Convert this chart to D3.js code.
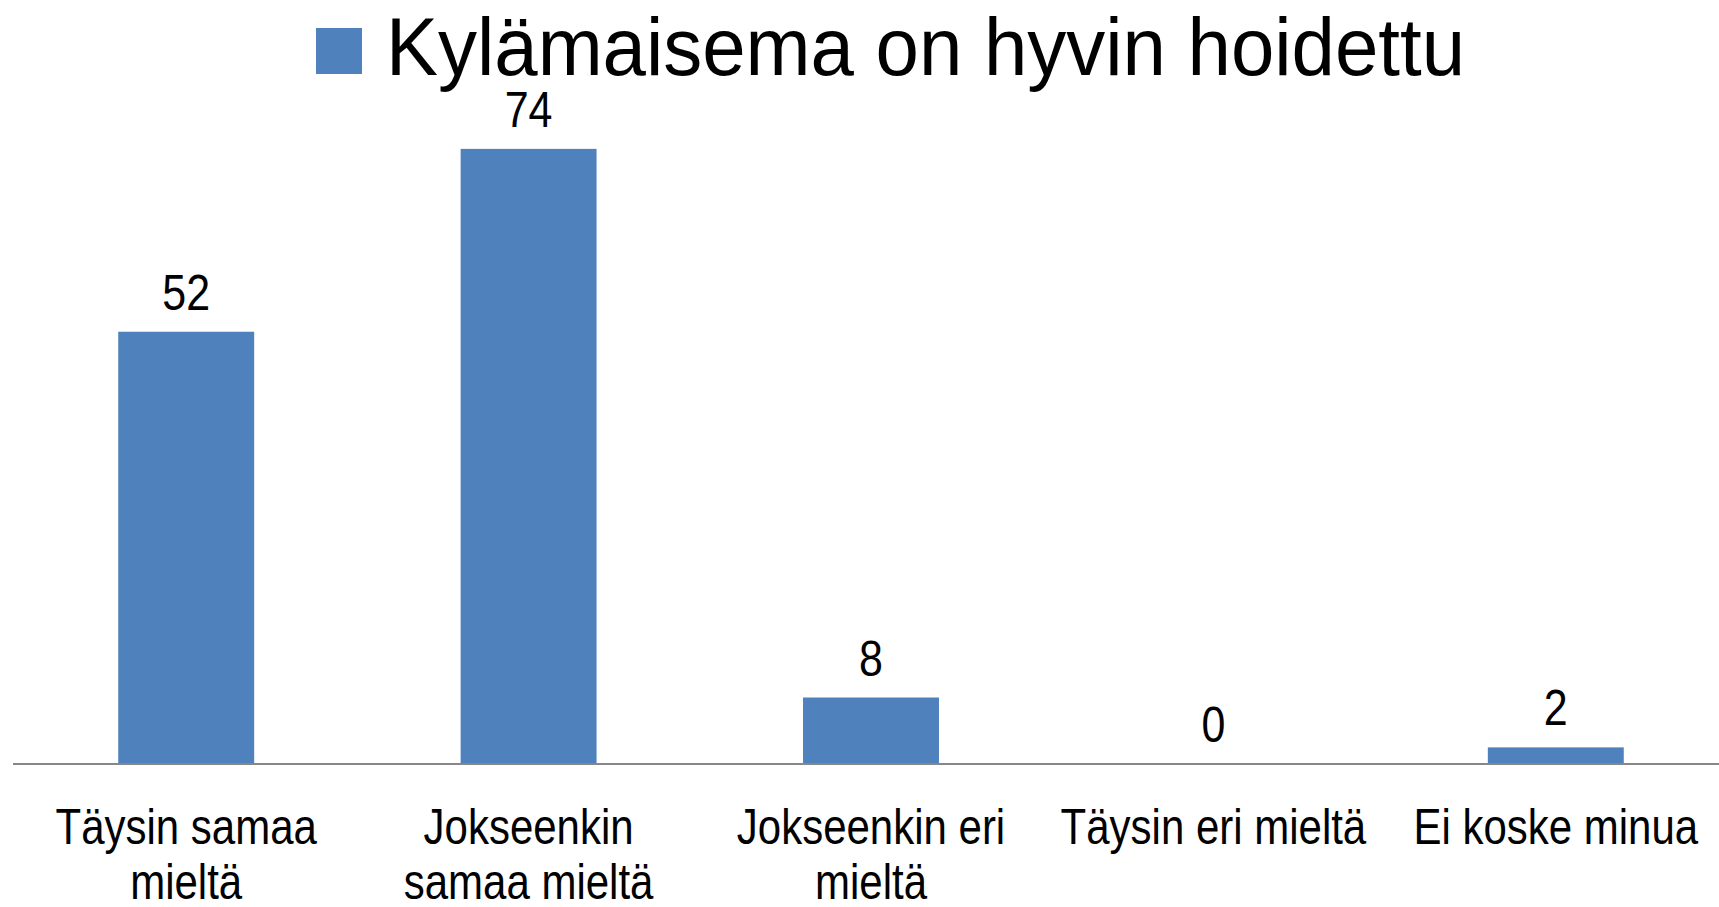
<!DOCTYPE html>
<html lang="fi">
<head>
<meta charset="UTF-8">
<title>Kylämaisema on hyvin hoidettu</title>
<script src="https://cdn.jsdelivr.net/npm/d3@7"></script>
<style>
  html, body { margin: 0; padding: 0; background: #fff; }
  svg { display: block; font-family: "Liberation Sans", Arial, sans-serif; }
</style>
</head>
<body>
<svg id="chart" width="1719" height="907"></svg>
<script>
const seriesName = "Kylämaisema on hyvin hoidettu";
const categories = ["Täysin samaa mieltä", "Jokseenkin samaa mieltä", "Jokseenkin eri mieltä", "Täysin eri mieltä", "Ei koske minua"];
const categoryLines = [["Täysin samaa", "mieltä"], ["Jokseenkin", "samaa mieltä"], ["Jokseenkin eri", "mieltä"], ["Täysin eri mieltä"], ["Ei koske minua"]];
const values = [52, 74, 8, 0, 2];

const W = 1719, H = 907;
const baseY = 764, topY = 99;
const labelSqueeze = 0.84;   // fonts in the original are narrow
const valueSqueeze = 0.86;
const barColor = "#4f81bd";

const svg = d3.select("#chart");

const x = d3.scaleBand().domain(categories).range([15, 1727]).paddingInner(0.603).paddingOuter(0.3015);
const y = d3.scaleLinear().domain([0, 80]).range([baseY, topY]);

// bars
svg.append("g").selectAll("rect")
  .data(values)
  .join("rect")
  .attr("x", (d, i) => x(categories[i]))
  .attr("y", d => y(d))
  .attr("width", x.bandwidth())
  .attr("height", d => baseY - y(d))
  .attr("fill", barColor);

// value labels
svg.append("g").selectAll("text")
  .data(values)
  .join("text")
  .attr("transform", (d, i) => `translate(${x(categories[i]) + x.bandwidth() / 2},${y(d) - 22}) scale(${valueSqueeze},1)`)
  .attr("text-anchor", "middle")
  .attr("font-size", 50)
  .attr("fill", "#000")
  .text(d => d);

// x axis
const axis = svg.append("g")
  .attr("transform", `translate(0,${baseY})`)
  .call(d3.axisBottom(x).tickSize(0).tickSizeOuter(0));
axis.select(".domain").attr("stroke", "#878787").attr("stroke-width", 2)
  .attr("d", `M13,0H${W}`);
axis.selectAll(".tick text").remove();
axis.selectAll(".tick").each(function (d, i) {
  const t = d3.select(this).append("text")
    .attr("transform", `scale(${labelSqueeze},1)`)
    .attr("text-anchor", "middle")
    .attr("font-size", 50)
    .attr("fill", "#000");
  categoryLines[i].forEach((line, j) => {
    t.append("tspan").attr("x", 0).attr("y", 80 + j * 55).text(line);
  });
});

// legend / title
svg.append("rect").attr("x", 316).attr("y", 28).attr("width", 46).attr("height", 46).attr("fill", barColor);
svg.append("text")
  .attr("x", 386).attr("y", 75)
  .attr("font-size", 82)
  .attr("textLength", 1079)
  .attr("lengthAdjust", "spacingAndGlyphs")
  .attr("fill", "#000")
  .text(seriesName);
</script>
</body>
</html>
